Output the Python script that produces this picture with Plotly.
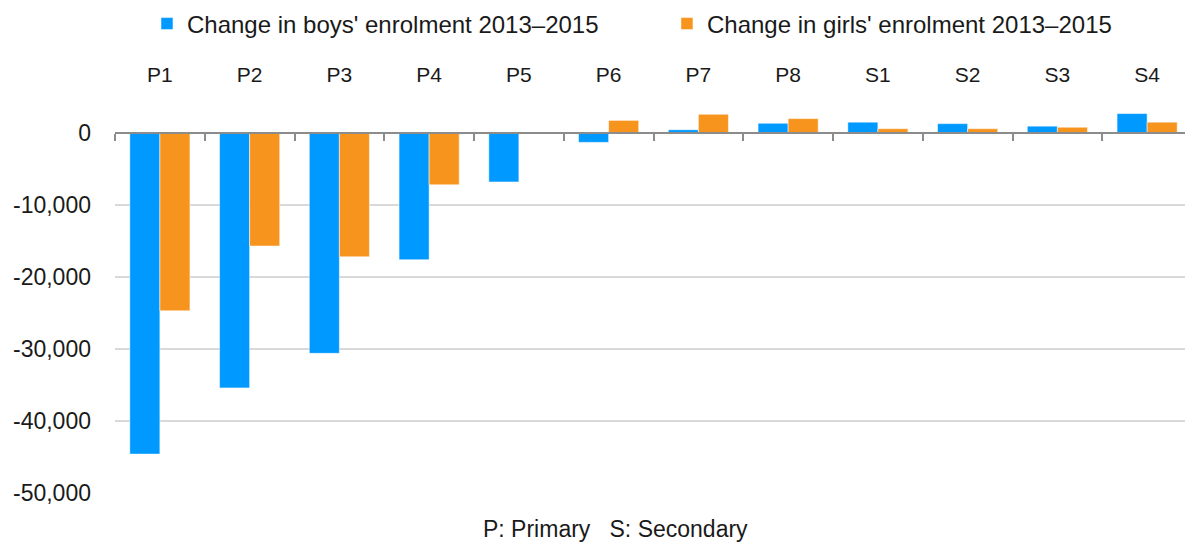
import plotly.graph_objects as go

categories = ["P1", "P2", "P3", "P4", "P5", "P6", "P7", "P8", "S1", "S2", "S3", "S4"]
boys = [-44600, -35400, -30600, -17600, -6800, -1300, 450, 1350, 1500, 1300, 950, 2700]
girls = [-24700, -15700, -17200, -7200, 30, 1750, 2600, 2000, 600, 600, 800, 1500]
y_ticks = [0, -10000, -20000, -30000, -40000, -50000]
y_tick_labels = ["0", "-10,000", "-20,000", "-30,000", "-40,000", "-50,000"]
boys_name = "Change in boys' enrolment 2013–2015"
girls_name = "Change in girls' enrolment 2013–2015"
footer = "P: Primary&nbsp;&nbsp;&nbsp;S: Secondary"

FONT = "Liberation Sans, Arial, sans-serif"
BLUE = "#0099FF"
ORANGE = "#F7941D"
y_min, y_max = -50000, 5000

# page body has an 8px margin, so the figure is sized to fill the rest of the window
W, H = 1185, 534
ML, MT, MR, MB = 107, 89, 1, 49

fig = go.Figure()
fig.add_trace(go.Bar(x=categories, y=boys, name=boys_name, marker_color=BLUE,
                     marker_line=dict(color="rgba(255,255,255,0.5)", width=1),
                     legend="legend"))
fig.add_trace(go.Bar(x=categories, y=girls, name=girls_name, marker_color=ORANGE,
                     marker_line=dict(color="rgba(255,255,255,0.5)", width=1),
                     legend="legend2"))

n = len(categories)
boundaries = [i - 0.5 for i in range(n + 1)]
leg_y = 1 - 16 / H

fig.update_layout(
    width=W, height=H,
    margin=dict(l=ML, r=MR, t=MT, b=MB),
    paper_bgcolor="white", plot_bgcolor="white",
    font=dict(family=FONT, size=22, color="#1a1a1a"),
    barmode="group", bargap=0.33, bargroupgap=0,
    showlegend=True,
    legend=dict(orientation="h", x=0.0297, xanchor="left", y=leg_y, yref="container",
                yanchor="middle", font=dict(size=24), itemwidth=30),
    legend2=dict(orientation="h", x=0.5125, xanchor="left", y=leg_y, yref="container",
                 yanchor="middle", font=dict(size=24), itemwidth=30),
    xaxis=dict(side="top", showline=False, ticks="", showgrid=False, automargin=False,
               tickfont=dict(size=21), range=[-0.5, n - 0.5], ticklabelstandoff=10),
    xaxis2=dict(overlaying="x", anchor="free", side="bottom", automargin=False,
                position=(0 - y_min) / (y_max - y_min),
                range=[-0.5, n - 0.5], tickmode="array", tickvals=boundaries,
                showticklabels=False, ticks="outside", ticklen=7, tickwidth=2,
                tickcolor="#8c8c8c", showline=True, linecolor="#8c8c8c", linewidth=2,
                showgrid=False, zeroline=False),
    yaxis=dict(range=[y_min, y_max], tickmode="array", tickvals=y_ticks, automargin=False,
               ticktext=y_tick_labels, showgrid=True, gridcolor="#d9d9d9", gridwidth=2,
               zeroline=False, showline=False, ticks="", ticklabelstandoff=23,
               tickfont=dict(size=23)),
    annotations=[dict(text=footer, x=0.465, xref="paper", y=-36 / 396, yref="paper",
                      yanchor="middle", xanchor="center", showarrow=False,
                      font=dict(size=23))],
)
fig.add_trace(go.Scatter(x=[None], y=[None], xaxis="x2", showlegend=False, hoverinfo="skip"))

fig.write_html("out.html")
